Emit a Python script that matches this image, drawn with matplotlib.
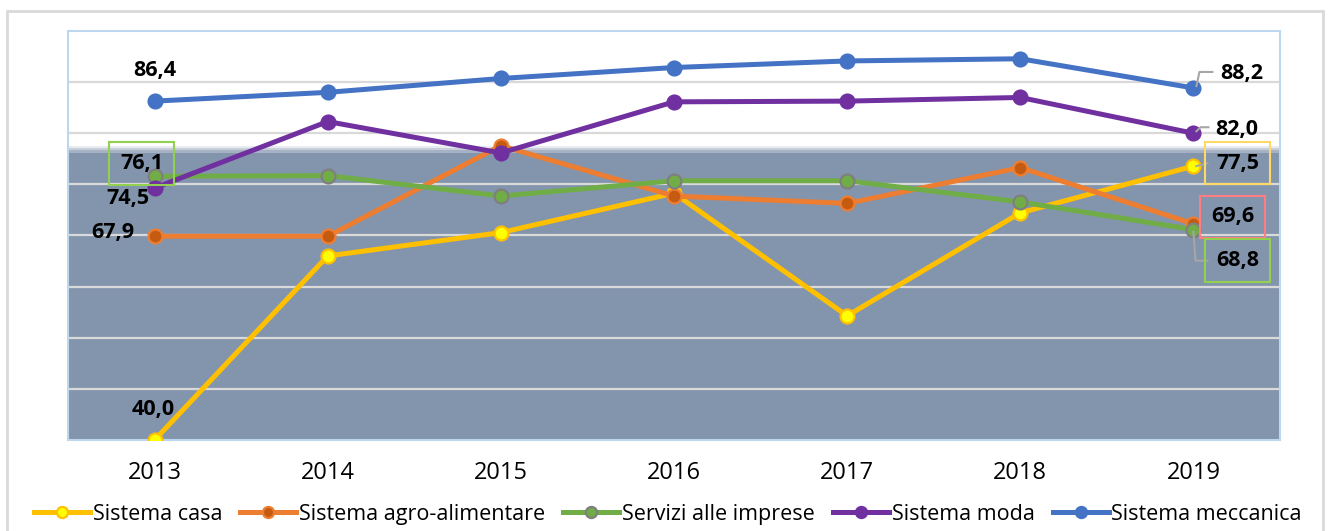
import matplotlib
matplotlib.use("Agg")
import matplotlib.pyplot as plt
from matplotlib.patches import Rectangle

plt.rcParams.update({
    "font.family": ["Open Sans", "DejaVu Sans"],
    "font.size": 14,
})

# data
years = ["2013", "2014", "2015", "2016", "2017", "2018", "2019"]
casa = [40.0, 65.2, 68.4, 73.8, 57.0, 71.1, 77.5]
agro = [67.9, 67.9, 80.3, 73.4, 72.4, 77.3, 69.6]
servizi = [76.1, 76.2, 73.4, 75.5, 75.5, 72.6, 68.8]
moda = [74.5, 83.6, 79.3, 86.3, 86.4, 86.9, 82.0]
meccanica = [86.4, 87.6, 89.5, 91.0, 91.9, 92.2, 88.2]

series = [
    ("Sistema casa", casa, "#FFC000", "#FFFF00", "#FFC000"),
    ("Sistema agro-alimentare", agro, "#ED7D31", "#C55A11", "#ED7D31"),
    ("Servizi alle imprese", servizi, "#70AD47", "#70AD47", "#7F7F7F"),
    ("Sistema moda", moda, "#7030A0", "#7030A0", "#7030A0"),
    ("Sistema meccanica", meccanica, "#4472C4", "#4472C4", "#4472C4"),
]

fig = plt.figure(figsize=(13.28, 5.31), dpi=100)
ax = fig.add_axes([68 / 1328, 1 - 440 / 531, (1280 - 68) / 1328, (440 - 31) / 531])

# outer frame
fig.patches.append(Rectangle((7 / 1328, -0.05), 1316 / 1328, 1.05 - 11 / 531,
                             transform=fig.transFigure, fill=False,
                             edgecolor="#D9D9D9", linewidth=2))

x = list(range(len(years)))
ax.set_xlim(-0.5, len(years) - 0.5)
ax.set_ylim(40, 96)

# shaded band with soft top edge
ax.axhspan(40, 79.3, color="#8395AD", zorder=0, linewidth=0)
for lo, hi, c in [(79.3, 79.65, "#A6B2C4"), (79.65, 79.95, "#C8CFDA"), (79.95, 80.3, "#E8EBF0")]:
    ax.axhspan(lo, hi, color=c, zorder=0, linewidth=0)

for g in range(47, 96, 7):
    ax.axhline(g, color="#D9D9D9", linewidth=1.6, zorder=1)

for i, (name, vals, lc, mfc, mec) in enumerate(series):
    ax.plot(x, vals, color=lc, linewidth=3.6, marker="o", markersize=10,
            markerfacecolor=mfc, markeredgecolor=mec, markeredgewidth=1.6,
            label=name, zorder=3 + i)

ax.set_xticks(x)
ax.set_xticklabels(years, fontsize=17)
ax.tick_params(axis="x", length=0, pad=15)
ax.set_yticks([])
for s in ax.spines.values():
    s.set_color("#BDD7EE")
    s.set_linewidth(1.5)


def label(xi, val, dx, dy, box=None):
    kw = {}
    if box:
        kw["bbox"] = dict(boxstyle="square,pad=0.5", facecolor="none", edgecolor=box, linewidth=1.5)
    ax.annotate(f"{val:.1f}".replace(".", ","), (xi, val), xytext=(dx, dy),
                textcoords="offset pixels", ha="center", va="center",
                fontsize=15.5, fontweight="bold", zorder=10, **kw)


def leader(xi, val, pts):
    # grey leader line, vertices given as pixel offsets from the point
    xd, yd = ax.transData.transform((xi, val))
    inv = ax.transData.inverted()
    dat = [inv.transform((xd + px, yd + py)) for px, py in pts]
    ax.plot([d[0] for d in dat], [d[1] for d in dat], color="#A6A6A6",
            linewidth=1.5, zorder=9, clip_on=False)


label(0, meccanica[0], 0, 31)
label(0, servizi[0], -13, 13, box="#92D050")
label(0, moda[0], -27, -10)
label(0, agro[0], -42, 4)
label(0, casa[0], -1, 30)

last = len(years) - 1
leader(last, meccanica[-1], [(3, 2), (6, 16), (19, 16)])
leader(last, moda[-1], [(3, 2), (7, 6), (15, 6)])
leader(last, casa[-1], [(3, 0), (14, 3)])
leader(last, servizi[-1], [(0, -2), (2, -31), (14, -31)])
label(last, meccanica[-1], 48, 14)
label(last, moda[-1], 43, 4)
label(last, casa[-1], 44, 3, box="#FFD966")
label(last, agro[-1], 39, 7, box="#FF7C80")
label(last, servizi[-1], 44, -31, box="#92D050")

fig.legend(loc="center", bbox_to_anchor=(0.503, 0.032), ncol=5, frameon=False,
           fontsize=15.5, handlelength=2.6, handletextpad=0.12, columnspacing=0.85,
           markerscale=0.8, borderaxespad=0)

fig.savefig("out.png", dpi=100)
